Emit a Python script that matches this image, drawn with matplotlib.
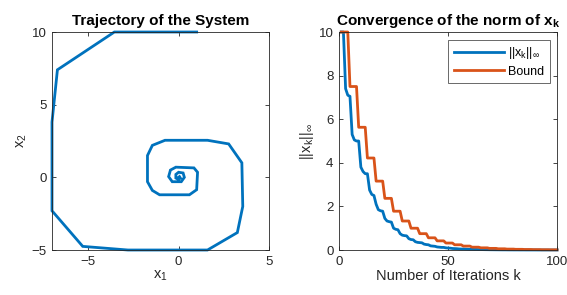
import numpy as np
import matplotlib
matplotlib.use("Agg")
import matplotlib.pyplot as plt

# trajectory vertices
traj_x1 = [1.0, -3.55, -6.7, -7.0, -7.0, -5.3, -2.8, 1.6, 3.25, 3.55, 3.5, 2.77, 1.6, -0.75,
           -1.45, -1.72, -1.72, -1.45, -1.05, 0.6, 1.0, 1.05, 0.85, -0.15, -0.45, -0.55,
           -0.35, 0.15, 0.32, 0.25, 0.0, -0.15, -0.15, 0.0, 0.1, 0.05, 0.0]
traj_x2 = [10.0, 10.0, 7.4, 3.8, -2.3, -4.75, -5.0, -5.0, -3.8, -2.0, 1.0, 2.3, 2.55, 2.55,
           2.2, 1.5, -0.3, -0.9, -1.2, -1.2, -0.85, 0.35, 0.65, 0.7, 0.5, 0.05,
           -0.3, -0.3, 0.0, 0.3, 0.35, 0.2, -0.05, -0.15, -0.05, 0.05, 0.0]

# infinity norm per iteration (right panel)
norm_inf = [10.0, 10.0, 7.4, 7.1, 7.05, 5.3, 5.05, 5.0, 5.0, 3.8,
            3.6, 3.5, 3.5, 2.75, 2.55, 2.5, 2.1, 1.85, 1.8, 1.78,
            1.45, 1.33, 1.3, 1.28, 1.0, 0.95, 0.93, 0.75, 0.68, 0.66,
            0.65, 0.52, 0.48, 0.47, 0.38, 0.35, 0.34, 0.33, 0.27, 0.25,
            0.24, 0.19, 0.18, 0.17, 0.14, 0.13, 0.12, 0.12, 0.10, 0.09,
            0.085, 0.07, 0.065, 0.06, 0.05, 0.045, 0.045, 0.04, 0.035, 0.03,
            0.03, 0.025, 0.025, 0.02, 0.02, 0.018, 0.016, 0.015, 0.013, 0.012,
            0.011, 0.010, 0.009, 0.008, 0.007, 0.007, 0.006, 0.005, 0.005, 0.004,
            0.004, 0.004, 0.003, 0.003, 0.003, 0.002, 0.002, 0.002, 0.002, 0.002,
            0.001, 0.001, 0.001, 0.001, 0.001, 0.001, 0.001, 0.001, 0.001, 0.001]
bound = [10.0, 10.0, 10.0, 10.0, 7.5, 7.5, 7.5, 7.5, 5.63, 5.63,
         5.63, 5.63, 4.22, 4.22, 4.22, 4.22, 3.16, 3.16, 3.16, 3.16,
         2.37, 2.37, 2.37, 2.37, 1.78, 1.78, 1.78, 1.78, 1.33, 1.33,
         1.33, 1.33, 1.0, 1.0, 1.0, 1.0, 0.75, 0.75, 0.75, 0.75,
         0.56, 0.56, 0.56, 0.56, 0.42, 0.42, 0.42, 0.42, 0.32, 0.32,
         0.32, 0.32, 0.24, 0.24, 0.24, 0.24, 0.18, 0.18, 0.18, 0.18,
         0.13, 0.13, 0.13, 0.13, 0.10, 0.10, 0.10, 0.10, 0.075, 0.075,
         0.075, 0.075, 0.056, 0.056, 0.056, 0.056, 0.042, 0.042, 0.042, 0.042,
         0.032, 0.032, 0.032, 0.032, 0.024, 0.024, 0.024, 0.024, 0.018, 0.018,
         0.018, 0.018, 0.013, 0.013, 0.013, 0.013, 0.010, 0.010, 0.010, 0.010]
iters = np.arange(1, len(norm_inf) + 1)

blue = '#0072BD'
orange = '#D95319'
tick_col = '#262626'

plt.rcParams['font.family'] = ['Liberation Sans', 'DejaVu Sans']
plt.rcParams['mathtext.fontset'] = 'custom'
plt.rcParams['mathtext.rm'] = 'Liberation Sans'
plt.rcParams['mathtext.it'] = 'Liberation Sans'
plt.rcParams['mathtext.bf'] = 'Liberation Sans:bold'

fig = plt.figure(figsize=(5.67, 2.95), dpi=100)
ax1 = fig.add_axes([0.0917, 0.1525, 0.3827, 0.739])
ax2 = fig.add_axes([0.598, 0.1525, 0.3845, 0.739])

def style(ax):
    for s in ax.spines.values():
        s.set_color('#262626')
        s.set_linewidth(0.6)
    ax.tick_params(direction='in', top=True, right=True, length=3, width=0.6,
                   colors=tick_col, labelsize=9.5, labelcolor=tick_col, pad=4)

ax1.plot(traj_x1, traj_x2, color=blue, lw=2.0, solid_joinstyle='miter', clip_on=False)
ax1.set_xlim(-7, 5)
ax1.set_ylim(-5, 10)
ax1.set_xticks([-5, 0, 5])
ax1.set_yticks([-5, 0, 5, 10])
ax1.set_xlabel('x$_1$', fontsize=10.5, color=tick_col, labelpad=1)
ax1.set_ylabel('x$_2$', fontsize=10.5, color=tick_col, labelpad=2)
ax1.set_title('Trajectory of the System', fontsize=11, fontweight='bold', pad=5)
style(ax1)

ax2.plot(iters, norm_inf, color=blue, lw=2.0, label=r'||x$_k$||$_\infty$', clip_on=False)
ax2.plot(iters, bound, color=orange, lw=2.0, label='Bound', clip_on=False)
ax2.set_xlim(0, 100)
ax2.set_ylim(0, 10)
ax2.set_xticks([0, 50, 100])
ax2.set_yticks([0, 2, 4, 6, 8, 10])
ax2.set_xlabel('Number of Iterations k', fontsize=10.5, color=tick_col, labelpad=1)
ax2.set_ylabel(r'||x$_k$||$_\infty$', fontsize=10.5, color=tick_col, labelpad=2)
ax2.set_title(r'Convergence of the norm of x$_\mathbf{k}$', fontsize=11,
              fontweight='bold', pad=5)
style(ax2)
leg = ax2.legend(loc='upper right', fontsize=9, handlelength=4.0, frameon=True,
                 fancybox=False, borderaxespad=0.6, borderpad=0.45, labelspacing=0.35,
                 handletextpad=0.3)
leg.get_frame().set_edgecolor('#262626')
leg.get_frame().set_linewidth(0.6)

fig.savefig('out.png', dpi=100)
